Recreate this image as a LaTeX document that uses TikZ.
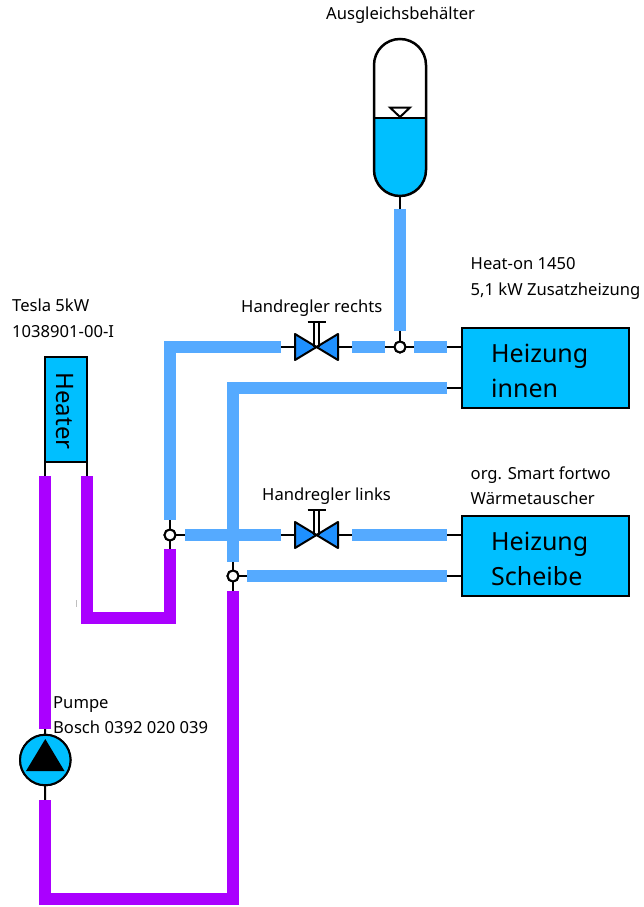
\documentclass[tikz,border=0pt]{standalone}
\usepackage{fontspec}
\setmainfont{Noto Sans}
\definecolor{pipeblue}{HTML}{55AAFF}
\definecolor{pipepurple}{HTML}{AA00FF}
\definecolor{water}{HTML}{00BFFF}
\definecolor{valveblue}{HTML}{1E90FF}
\tikzset{
  wire/.style={draw=black,line width=2pt},
  pipeb/.style={draw=pipeblue,line width=12.5pt,line join=miter},
  pipep/.style={draw=pipepurple,line width=12.5pt,line join=miter},
  junc/.style={circle,draw=black,fill=white,line width=2pt,minimum size=11pt,inner sep=0pt,outer sep=0pt},
  unit/.style={rectangle,draw=black,fill=water,line width=2pt,inner sep=0pt,outer sep=0pt},
  valvebox/.style={rectangle,inner sep=0pt,outer sep=0pt,minimum width=43pt,minimum height=26pt},
  lbl/.style={anchor=base west,inner sep=0pt,font=\fontsize{16.6}{20}\selectfont,text=black},
  big/.style={anchor=base west,inner sep=0pt,font=\fontsize{25}{30}\selectfont,text=black},
}
\newcommand{\myvalve}[1]{%
  \draw[black,line width=2pt,line join=round,fill=valveblue]
    (#1.north west) -- (#1.center) -- (#1.south west) -- cycle;
  \draw[black,line width=2pt,line join=round,fill=valveblue]
    (#1.north east) -- (#1.center) -- (#1.south east) -- cycle;
  \draw[black,line width=1.5pt] ([xshift=-2.5pt,yshift=25pt]#1.center) -- ([xshift=-2.5pt,yshift=0pt]#1.center);
  \draw[black,line width=1.5pt] ([xshift=2.5pt,yshift=25pt]#1.center) -- ([xshift=2.5pt,yshift=0pt]#1.center);
  \draw[black,line width=2pt] ([xshift=-9pt,yshift=25pt]#1.center) -- ([xshift=9pt,yshift=25pt]#1.center);
}
\begin{document}
\begin{tikzpicture}[x=1pt,y=-1pt]
\useasboundingbox (0,0) rectangle (643,907);
% named parts
\node[junc] (jT) at (400,347) {};
\node[junc] (jA) at (170,535) {};
\node[junc] (jB) at (233,576) {};
\node[valvebox] (vR) at (316.5,347) {};
\node[valvebox] (vL) at (316.5,535) {};
\node[unit,minimum width=167pt,minimum height=80pt] (hI) at (545.5,368) {};
\node[unit,minimum width=167pt,minimum height=80pt] (hS) at (545.5,556) {};
\node[unit,minimum width=42pt,minimum height=105pt] (heater) at (66,409.5) {};
\node[circle,draw=black,fill=water,line width=2pt,minimum size=50.5pt,inner sep=0pt,outer sep=0pt] (pump) at (45.3,760) {};
\coordinate (tankB) at (400,196);
\coordinate (innerA) at (447,347);
\coordinate (innerB) at (447,388);
\coordinate (scheA) at (447,535);
\coordinate (scheB) at (447,576);
\coordinate (hL) at (45,476);
\coordinate (hR) at (87,476);
\coordinate (pU) at (45,729);
\coordinate (pD) at (45,800);
\coordinate (tP) at (400,209);
\coordinate (tQ) at (400,331);
\coordinate (a1) at (170,520);
\coordinate (a2) at (170,347);
\coordinate (a3) at (281,347);
\coordinate (b1) at (352,347);
\coordinate (b2) at (385,347);
\coordinate (b3) at (414,347);
\coordinate (c1) at (447,388);
\coordinate (c2) at (233,388);
\coordinate (c3) at (233,562);
\coordinate (d1) at (185,535);
\coordinate (d2) at (281,535);
\coordinate (d3) at (352,535);
\coordinate (e1) at (247,576);
\coordinate (f1) at (170,549);
\coordinate (f2) at (170,618);
\coordinate (f3) at (87,618);
\coordinate (g1) at (233,591);
\coordinate (g2) at (233,899);
\coordinate (g3) at (45,899);
% thin connectors
\draw[wire] (tankB) -- (tP);
\draw[wire] (tQ) -- (jT);
\draw[wire] (a3) -- (vR.west);
\draw[wire] (vR.east) -- (b1);
\draw[wire] (b2) -- (jT);
\draw[wire] (jT) -- (b3);
\draw[wire] (innerA) -- (innerA -| hI.west);
\draw[wire] (innerB) -- (innerB -| hI.west);
\draw[wire] (a1) -- (jA);
\draw[wire] (jA) -- (f1);
\draw[wire] (jA) -- (d1);
\draw[wire] (d2) -- (vL.west);
\draw[wire] (vL.east) -- (d3);
\draw[wire] (scheA) -- (scheA -| hS.west);
\draw[wire] (scheB) -- (scheB -| hS.west);
\draw[wire] (c3) -- (jB);
\draw[wire] (jB) -- (g1);
\draw[wire] (jB) -- (e1);
\draw[wire] (heater.south west) -- (hL);
\draw[wire] (heater.south east) -- (hR);
\draw[wire] (pU) -- (pump);
\draw[wire] (pump) -- (pD);
% pipes
\draw[pipeb] (tP) -- (tQ);
\draw[pipeb] (a1) -- (a2) -- (a3);
\draw[pipeb] (b1) -- (b2);
\draw[pipeb] (b3) -- (innerA);
\draw[pipeb] (c1) -- (c2) -- (c3);
\draw[pipeb] (d1) -- (d2);
\draw[pipeb] (d3) -- (scheA);
\draw[pipeb] (e1) -- (scheB);
\draw[pipep] (hL) -- (pU);
\draw[pipep] (hR) -- (f3) -- (f2) -- (f1);
\draw[pipep] (g1) -- (g2) -- (g3) -- (pD);
% redraw parts over wires
\node[junc] at (jT) {};
\node[junc] at (jA) {};
\node[junc] at (jB) {};
\node[circle,draw=black,fill=water,line width=2pt,minimum size=50.5pt,inner sep=0pt,outer sep=0pt] at (pump) {};
\fill[black] (45.3,739) -- (64.5,771) -- (26,771) -- cycle;
\myvalve{vR}
\myvalve{vL}
% tank
\fill[water] (374,118) -- (426,118) -- (426,170) arc[start angle=0,end angle=180,x radius=26pt,y radius=-26pt] -- cycle;
\draw[black,line width=2.5pt] (374,65) arc[start angle=180,end angle=0,x radius=26pt,y radius=26pt] -- (426,170) arc[start angle=0,end angle=180,x radius=26pt,y radius=-26pt] -- cycle;
\draw[black,line width=2pt] (374,118) -- (426,118);
\draw[black,line width=2pt,line join=miter] (390,107.5) -- (410,107.5) -- (400,117) -- cycle;
% stray tick
\draw[lightgray,line width=1pt] (76,600) -- (76,607);
% labels
\node[lbl] (t1) at (326,20) {Ausgleichsbehälter};
\node[lbl] (t2) at (470.5,269) {Heat-on 1450};
\node[lbl] (t3) at (470.5,295) {5,1 kW Zusatzheizung};
\node[lbl] (t4) at (12,311) {Tesla 5kW};
\node[lbl] (t5) at (12,337) {1038901-00-I};
\node[lbl] (t6) at (241,312) {Handregler rechts};
\node[lbl] (t7) at (262,500) {Handregler links};
\node[lbl] (t8) at (470.5,479) {org. Smart fortwo};
\node[lbl] (t9) at (470.5,504) {Wärmetauscher};
\node[lbl] (t10) at (53,708) {Pumpe};
\node[lbl] (t11) at (53,733) {Bosch 0392 020 039};
\node[big] (t12) at (491,362.5) {Heizung};
\node[big] (t13) at (491,397) {innen};
\node[big] (t14) at (491,550.5) {Heizung};
\node[big] (t15) at (491,585) {Scheibe};
\node[inner sep=0pt,rotate=-90,font=\fontsize{24}{28}\selectfont] (t16) at (65,411) {Heater};
\end{tikzpicture}
\end{document}
